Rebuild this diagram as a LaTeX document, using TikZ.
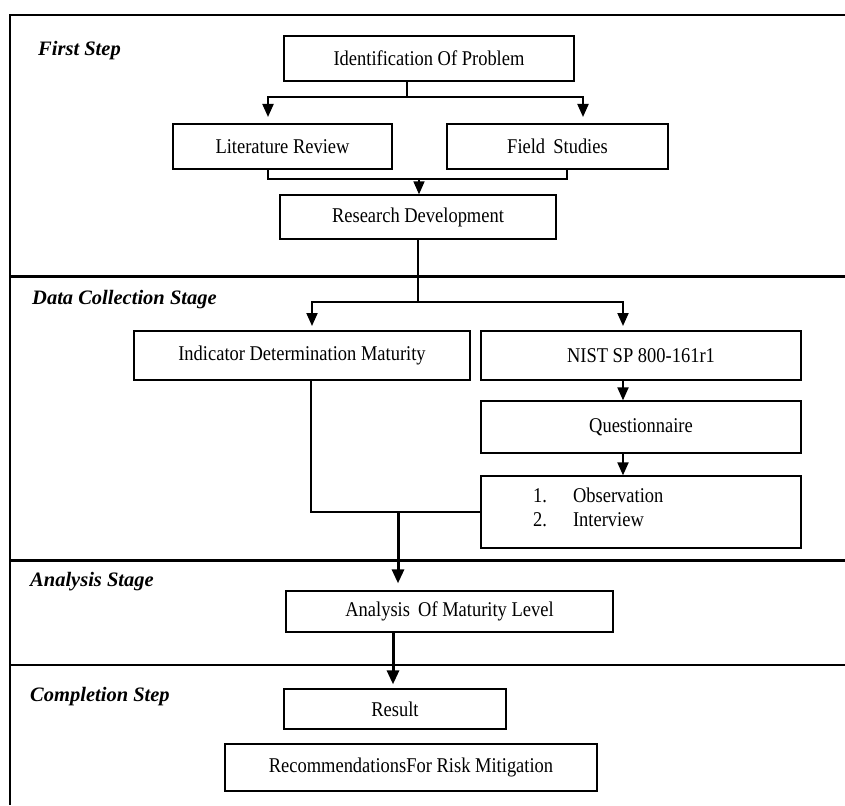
\documentclass[tikz,border=0pt]{standalone}
\usepackage{fontspec}
\setmainfont[FakeStretch=0.88]{Liberation Serif}
\newfontfamily\lblfont{Liberation Serif}
\usetikzlibrary{arrows.meta}
\begin{document}
\begin{tikzpicture}[x=1pt,y=-1pt,
  box/.style={draw, line width=1.3pt, rectangle, inner sep=0pt, font=\fontsize{21}{24}\selectfont},
  lbl/.style={anchor=west, inner sep=0pt, font=\lblfont\fontsize{20.5}{24}\selectfont\bfseries\itshape},
  arr/.style={line width=2pt, -{Triangle[width=11pt,length=13pt]}},
  thickarr/.style={line width=3pt, -{Triangle[width=12pt,length=14pt]}},
  thinline/.style={line width=1.1pt},
  divider/.style={line width=3pt}]
\useasboundingbox (0,0) rectangle (845,805);
% frame and stage dividers
\draw[line width=1.6pt] (845,15) -- (10,15) -- (10,805);
\draw[divider] (10,276) -- (845,276);
\draw[divider] (10,560) -- (845,560);
\draw[line width=1.8pt] (10,665) -- (845,665);
% stage labels
\node[lbl] (l1) at (38,51) {First Step};
\node[lbl] (l2) at (32,300) {Data Collection Stage};
\node[lbl] (l3) at (30,582) {Analysis Stage};
\node[lbl] (l4) at (30,697) {Completion Step};
% boxes
\node[box, minimum width=290, minimum height=45] (idp) at (429,58.5) {Identification Of Problem};
\node[box, minimum width=219, minimum height=45] (lit) at (282.5,146.5) {Literature Review};
\node[box, minimum width=221, minimum height=45] (fld) at (557.5,146.5) {Field\, Studies};
\node[box, minimum width=276, minimum height=44] (res) at (418,217) {Research Development};
\node[box, minimum width=336, minimum height=49] (ind) at (302,355.5) {Indicator Determination Maturity};
\node[box, minimum width=320, minimum height=49] (nist) at (641,355.5) {NIST SP 800-161r1};
\node[box, minimum width=320, minimum height=52] (que) at (641,427) {Questionnaire};
\node[box, minimum width=320, minimum height=72] (obs) at (641,512) {};
\node[anchor=west, inner sep=0pt, font=\fontsize{21}{24}\selectfont] (obst) at (533,510)
  {\begin{tabular}{@{}l@{\hspace{26pt}}l@{}}1. & Observation\\ 2. & Interview\end{tabular}};
\node[box, minimum width=327, minimum height=41] (ana) at (449.5,611.5) {Analysis\, Of Maturity Level};
\node[box, minimum width=222, minimum height=40] (resu) at (395,709) {Result};
\node[box, minimum width=372, minimum height=47] (rec) at (411,767.5) {RecommendationsFor Risk Mitigation};
% helper coordinates
\coordinate (j1) at (407,97);
\coordinate (t1) at (268,124);
\coordinate (t2) at (583,124);
\coordinate (b1) at (268,169);
\coordinate (b2) at (567,169);
\coordinate (m1) at (419,179);
\coordinate (j2) at (418,302);
\coordinate (t3) at (312,331);
\coordinate (t4) at (623,331);
\coordinate (ax) at (623,0);
\coordinate (cx1) at (311,0);
\coordinate (j3) at (398,512);
\coordinate (cx3) at (393,0);
% connectors
\draw[thinline] (idp.south -| j1) -- (j1);
\draw[arr, shorten >=7pt] (j1) -| (t1);
\draw[arr, shorten >=7pt] (j1) -| (t2);
\draw[thinline] (b1) -- ++(0,10) -| (b2);
\draw[arr, line width=1.5pt] (m1) -- (m1 |- res.north);
\draw[thinline] (res.south) -- (j2);
\draw[arr, shorten >=5pt] (j2) -| (t3);
\draw[arr, shorten >=5pt] (j2) -| (t4);
\draw[arr] (nist.south -| ax) -- (que.north -| ax);
\draw[arr] (que.south -| ax) -- (obs.north -| ax);
\draw[thinline] (ind.south -| cx1) |- (obs.west);
\draw[thickarr, shorten >=7pt] (j3) -- (j3 |- ana.north);
\draw[thickarr, shorten >=4pt] (ana.south -| cx3) -- (resu.north -| cx3);
\end{tikzpicture}
\end{document}
